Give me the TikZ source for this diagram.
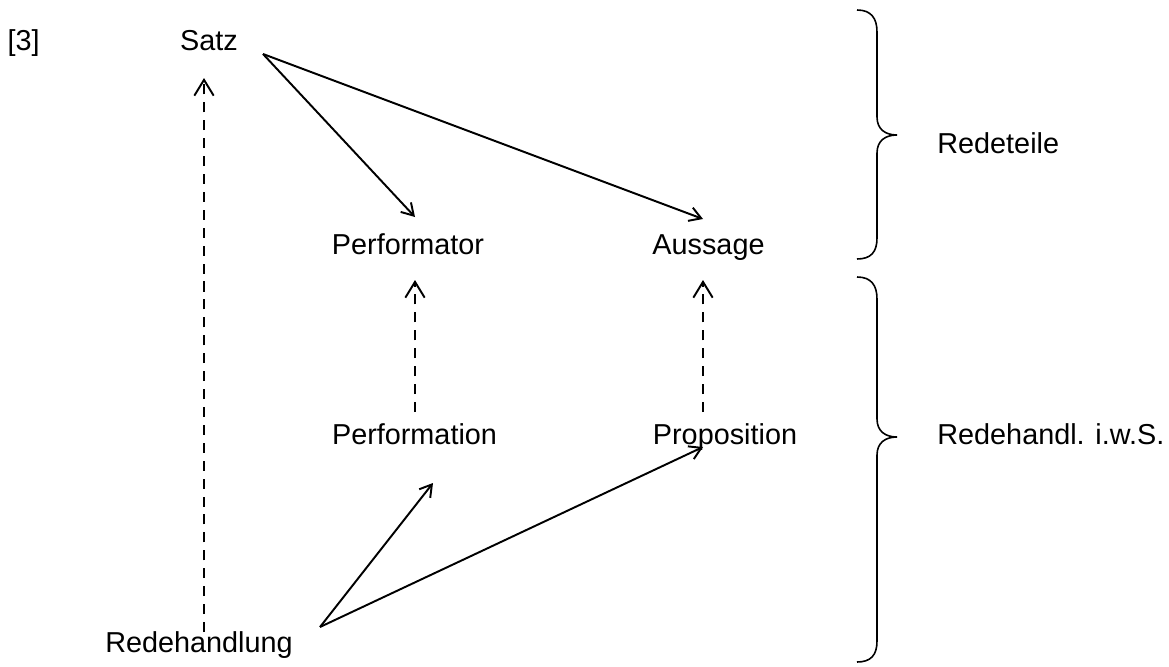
\documentclass[tikz,border=0pt]{standalone}
\usepackage{fontspec}
\setmainfont{Liberation Sans}
\usetikzlibrary{arrows.meta,
	calc,
	positioning}

\tikzset{
	lbl/.style={anchor=base, inner sep=0pt, font=\fontsize{16.4}{19}\selectfont},
	arr/.style={-{Straight Barb[length=6.6pt,width=8pt]}, line width=1.1pt},
	darr/.style={-{Straight Barb[length=9pt,width=11pt]}, line width=1.1pt, dash pattern=on 5.7pt off 4.5pt},
	brc/.style={line width=0.9pt}
}

\begin{document}
\begin{tikzpicture}[x=0.02cm, y=-0.02cm]
				\useasboundingbox (0, 0) rectangle (1169, 666);
				% labels
				\node[lbl, anchor=base east] (nr) at (40, 50.7) {[3]};
				\node[lbl] (satz) at (209, 50.7) {Satz};
				\node[lbl] (performator) at (408, 254) {Performator};
				\node[lbl] (aussage) at (708.5, 254) {Aussage};
				\node[lbl] (performation) at (414.5, 444.5) {Performation};
				\node[lbl] (proposition) at (725, 444.5) {Proposition};
				\node[lbl] (redehandlung) at (199, 652) {Redehandlung};
				\node[lbl, anchor=base west] (redeteile) at (937, 153) {Redeteile};
				\node[lbl, anchor=base west] (iws) at (937, 444.5) {Redehandl. i.w.S.};
				% arrow ends
				\coordinate (satz-out) at (263, 54);
				\coordinate (satz-in) at (204, 78);
				\coordinate (performator-in) at (415, 217);
				\coordinate (performator-up) at (415, 280);
				\coordinate (aussage-in) at (703, 219);
				\coordinate (aussage-up) at (703, 280);
				\coordinate (performation-out) at (415, 412);
				\coordinate (performation-in) at (433, 483);
				\coordinate (proposition-out) at (703, 412);
				\coordinate (proposition-in) at (703, 447);
				\coordinate (redehandlung-out) at (320, 627);
				\coordinate (redehandlung-up) at (204, 632);
				\draw[arr] (satz-out) -- (performator-in);
				\draw[arr] (satz-out) -- (aussage-in);
				\draw[darr] (redehandlung-up) -- (satz-in);
				\draw[darr] (performation-out) -- (performator-up);
				\draw[darr] (proposition-out) -- (aussage-up);
				\draw[arr] (redehandlung-out) -- (performation-in);
				\draw[arr] (redehandlung-out) -- (proposition-in);
				% braces
				\draw[brc] (857, 10) .. controls (871, 10) and (877, 18) .. (877, 32) -- (877, 117)
					.. controls (877, 129) and (885, 135) .. (897, 135)
					.. controls (885, 135) and (877, 141) .. (877, 153) -- (877, 238)
					.. controls (877, 252) and (871, 259) .. (857, 259);
				\draw[brc] (857, 277) .. controls (871, 277) and (877, 285) .. (877, 299) -- (877, 419)
					.. controls (877, 431) and (885, 437) .. (897, 437)
					.. controls (885, 437) and (877, 443) .. (877, 455) -- (877, 641)
					.. controls (877, 655) and (871, 662) .. (857, 662);
			\end{tikzpicture}
\end{document}
